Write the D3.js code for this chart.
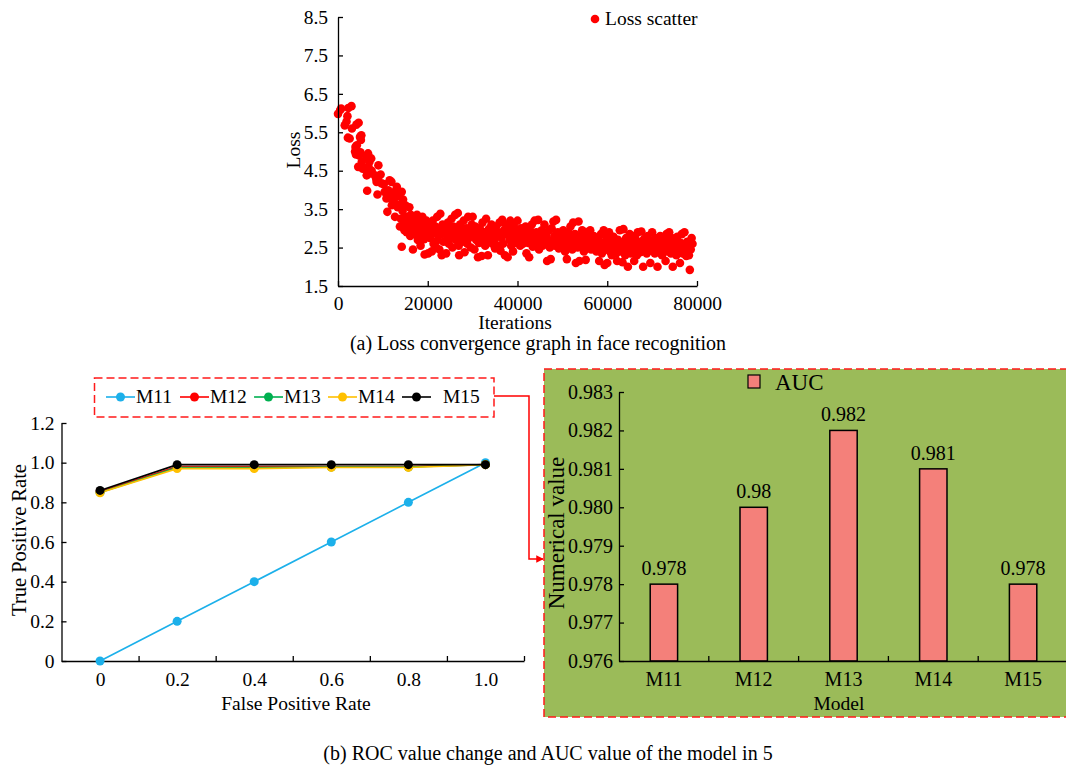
<!DOCTYPE html>
<html>
<head>
<meta charset="utf-8">
<script src="https://cdn.jsdelivr.net/npm/d3@7"></script>
<style>
	body { margin: 0; background: #fff; }
	svg { display: block; font-family: "Liberation Serif", "Times New Roman", serif; }
	.axis path, .axis line { stroke: #000; stroke-width: 1.3; }
	.axis text { fill: #000; font-family: "Liberation Serif", "Times New Roman", serif; }
</style>
</head>
<body>
<div id="chart"></div>
<script>

///////////////////////////////////////////////////////////////////////////
/////////////////////////////// The data //////////////////////////////////
///////////////////////////////////////////////////////////////////////////

//Loss scatter: [iteration, loss]
var lossPoints = [
	[0,5.98],[500,6.08],[700,6.12],[1500,5.68],[1900,5.78],[2100,5.92],[2200,5.36],[2300,6.13],[2600,5.34],[3000,6.18],
	[3100,5.6],[3800,5.0],[3900,5.12],[4000,4.92],[4100,5.7],[4200,5.16],[4500,4.6],[4600,5.75],[4700,4.9],[4900,5.38],
	[5100,5.3],[5200,5.42],[5000,4.98],[5300,4.73],[5500,4.55],[6000,4.56],[6300,4.86],[6400,4.38],[6500,3.98],[6700,4.95],
	[6800,4.6],[7000,4.73],[7100,4.43],[7400,4.82],[7500,4.5],[8200,4.38],[8500,4.3],[8600,4.21],[8800,3.88],[9000,4.34],
	[9000,4.64],[9500,4.4],[9700,4.17],[10200,4.15],[10400,3.95],[10800,3.78],[11000,3.43],[11200,3.99],[11500,4.25],[11900,4.21],
	[11600,3.85],[12000,3.6],[12300,3.7],[12600,3.95],[12700,3.3],[12900,3.82],[13100,4.08],[13300,3.55],[13500,3.9],[13600,3.62],
	[13800,3.05],[14000,3.25],[14200,3.95],[14200,2.52],[14400,3.45],[14500,3.75],[14700,3.15],[14800,2.95],[15000,3.6],[15000,3.3],
	[15300,2.9],[15500,3.2],[15700,3.05],[15900,3.55],[16100,2.8],[16200,3.35],[16400,2.95],[16700,2.45],[16800,3.1],[17000,3.25],
	[17200,2.85],[17400,3.0],[17600,3.35],[17800,2.7],[18000,2.98],[18200,3.15],[18400,2.55],[18600,2.88],[18800,3.3],[19000,3.05],
	[19200,2.72],[19300,2.32],[19500,2.95],[19700,3.2],[19900,2.85],
	[20100,2.35],[20300,3.1],[20500,2.75],[20700,2.95],[20900,2.4],[21100,3.2],[21300,2.6],[21500,2.88],[21700,3.05],[21900,2.5],
	[22100,3.3],[22200,2.7],[22400,2.95],[22600,2.45],[22800,3.38],[22900,2.85],[23100,2.3],[23300,3.1],[23500,2.65],[23700,2.9],[23900,3.0],
	[24100,2.35],[24300,2.8],[24500,3.15],[24700,2.6],[24900,2.95],[25100,2.75],[25300,3.25],[25500,2.5],[25700,3.05],[25900,2.85],
	[26100,3.35],[26300,2.7],[26500,2.95],[26700,3.4],[26900,2.55],[27000,2.3],[27200,3.1],[27400,2.8],[27600,2.98],[27800,2.65],
	[28000,3.2],[28200,2.38],[28400,2.85],[28600,3.0],[28800,2.6],[29000,3.3],[29200,2.75],[29400,2.92],[29600,2.5],[29800,3.1],
	[30000,3.3],[30200,2.82],[30400,2.45],[30600,3.05],[30800,2.7],[31000,2.95],[31200,2.25],[31400,2.62],[31600,3.0],[31800,2.8],
	[32000,2.28],[32200,3.15],[32400,2.7],[32600,2.9],[32800,2.55],[33000,3.25],[33200,2.75],[33400,2.3],[33600,2.98],[33800,2.65],
	[34000,2.85],[34200,3.1],[34400,2.6],[34600,2.95],[34800,2.7],[35000,2.48],[35200,3.05],[35400,2.8],[35600,2.55],[35800,2.9],
	[36000,3.15],[36200,2.42],[36400,2.75],[36600,3.22],[36800,2.6],[37000,2.95],[37200,2.3],[37400,3.1],[37600,2.85],[37800,2.25],
	[38000,3.0],[38200,2.7],[38400,3.2],[38600,2.55],[38800,2.9],[39000,2.4],[39200,3.05],[39400,2.78],[39600,2.62],[39800,2.95],
	[40000,3.2],[40200,2.7],[40400,2.85],[40600,2.55],[40800,3.0],[41000,2.75],[41200,2.6],[41400,2.9],[41600,2.68],[41800,3.05],
	[42000,2.35],[42200,2.8],[42400,2.62],[42600,2.25],[42800,2.95],[43000,2.7],[43200,3.1],[43400,2.52],[43600,2.85],[43800,3.2],
	[44000,2.6],[44200,2.9],[44400,2.75],[44600,3.22],[44800,2.45],[45000,2.82],[45200,2.65],[45400,2.95],[45600,2.55],[45800,2.78],
	[46000,3.1],[46200,2.6],[46400,2.85],[46600,2.15],[46800,2.7],[47000,2.95],[47200,2.5],[47400,2.2],[47600,3.0],[47800,2.65],
	[48000,3.18],[48200,2.8],[48400,2.55],[48600,3.22],[48800,2.7],[49000,2.9],[49200,2.48],[49400,2.75],[49600,2.6],[49800,2.85],
	[50000,2.55],[50200,2.95],[50400,2.7],[50600,2.4],[50800,2.85],[51000,2.2],[51200,2.62],[51400,2.9],[51600,2.5],[51800,3.05],
	[52000,2.75],[52200,2.45],[52400,3.15],[52600,2.6],[52800,2.85],[53000,2.1],[53200,2.7],[53400,2.5],[53600,3.18],[53800,2.15],
	[54000,2.8],[54200,2.55],[54400,2.95],[54600,2.65],[54800,2.4],[55000,2.72],[55200,2.18],[55400,2.9],[55600,2.5],[55800,2.78],
	[56000,2.6],[56200,2.95],[56400,2.45],[56600,2.7],[56800,2.55],[57000,2.8],[57200,2.5],[57400,2.65],[57600,2.4],[57800,2.58],
	[58000,2.7],[58200,2.15],[58400,2.5],[58600,2.85],[58800,2.35],[59000,2.62],[59200,2.95],[59400,2.05],[59600,2.45],[59800,2.75],
	[60000,2.1],[60200,2.55],[60400,2.9],[60600,2.4],[60800,2.68],[61000,2.3],[61200,2.5],[61400,2.78],[61600,2.45],[61800,2.6],
	[62000,2.35],[62200,2.15],[62400,2.7],[62600,2.5],[62800,2.95],[63000,2.4],[63200,2.62],[63400,2.12],[63600,2.98],[63800,2.55],
	[64000,2.3],[64200,2.75],[64400,2.45],[64600,2.0],[64800,2.6],[65000,2.85],[65200,2.35],[65400,2.5],[65600,2.7],[65800,2.42],
	[66000,2.15],[66200,2.8],[66400,2.55],[66600,2.3],[66800,2.9],[67000,2.48],[67200,2.65],[67400,2.38],[67600,2.92],[67800,2.55],
	[68000,2.0],[68200,2.72],[68400,2.45],[68600,2.6],[68800,2.35],[69000,2.8],[69200,2.5],[69400,2.42],[69600,2.1],[69800,2.68],
	[70000,2.9],[70200,2.45],[70400,2.6],[70600,2.35],[70800,2.75],[71000,2.5],[71200,2.0],[71400,2.62],[71600,2.4],[71800,2.8],
	[72000,2.55],[72200,2.3],[72400,2.7],[72600,2.45],[72800,2.6],[73000,2.15],[73200,2.85],[73400,2.4],[73600,2.68],[73800,2.9],
	[74000,2.5],[74200,2.35],[74400,2.75],[74600,2.0],[74800,2.55],[75000,2.42],[75200,2.65],[75400,2.3],[75600,2.78],[75800,2.5],
	[76000,2.4],[76200,2.1],[76400,2.62],[76600,2.85],[76800,2.35],[77000,2.55],[77200,2.9],[77400,2.45],[77600,2.28],[77800,2.65],
	[78000,2.5],[78200,2.3],[78400,1.92],[78600,2.45],[78800,2.75],[79000,2.6]
];
var lossTicksY = [1.5, 2.5, 3.5, 4.5, 5.5, 6.5, 7.5, 8.5];
var lossTicksX = [0, 20000, 40000, 60000, 80000];

//ROC curves
var fprValues = [0, 0.2, 0.4, 0.6, 0.8, 1.0];
var rocModels = ["M11", "M12", "M13", "M14", "M15"];
var rocColors = ["#1cb0ea", "#ff0000", "#00b050", "#ffc000", "#000000"];
var tprM11 = [0, 0.2, 0.4, 0.6, 0.8, 1.0];
var tprM12 = [0.855, 0.98, 0.98, 0.98, 0.98, 0.99];
var tprM13 = [0.85, 0.975, 0.975, 0.978, 0.978, 0.99];
var tprM14 = [0.848, 0.97, 0.97, 0.976, 0.976, 0.99];
var tprM15 = [0.86, 0.99, 0.99, 0.99, 0.99, 0.99];
var rocTicksY = [0, 0.2, 0.4, 0.6, 0.8, 1.0, 1.2];

//AUC bars
var aucModels = ["M11", "M12", "M13", "M14", "M15"];
var aucValues = [0.978, 0.980, 0.982, 0.981, 0.978];
var aucLabels = ["0.978", "0.98", "0.982", "0.981", "0.978"];
var aucTicksY = [0.976, 0.977, 0.978, 0.979, 0.980, 0.981, 0.982, 0.983];

///////////////////////////////////////////////////////////////////////////
//////////////////////////// Set up the SVG ///////////////////////////////
///////////////////////////////////////////////////////////////////////////

var width = 1066,
	height = 770;

var svg = d3.select("#chart")
	.append("svg")
	.attr("width", width)
	.attr("height", height);

svg.append("rect")
	.attr("width", width)
	.attr("height", height)
	.style("fill", "#fff");

//Arrow head for the connector
svg.append("defs").append("marker")
	.attr("id", "arrow")
	.attr("viewBox", "0 0 10 10")
	.attr("refX", 9)
	.attr("refY", 5)
	.attr("markerWidth", 5)
	.attr("markerHeight", 5)
	.attr("markerUnits", "strokeWidth")
	.attr("orient", "auto")
	.append("path")
	.attr("d", "M0,0 L10,5 L0,10 Z")
	.style("fill", "#ff0000");

///////////////////////////////////////////////////////////////////////////
///////////////////////// (a) Loss scatter chart //////////////////////////
///////////////////////////////////////////////////////////////////////////

var xLoss = d3.scaleLinear().domain([0, 80000]).range([338, 697]);
var yLoss = d3.scaleLinear().domain([1.5, 8.5]).range([286, 17]);

var lossChart = svg.append("g").attr("class", "loss-chart");

lossChart.selectAll(".loss-dot")
	.data(lossPoints)
	.enter().append("circle")
	.attr("class", "loss-dot")
	.attr("cx", function(d) { return xLoss(d[0]); })
	.attr("cy", function(d) { return yLoss(d[1]); })
	.attr("r", 4.3)
	.style("fill", "#ff0000");

lossChart.append("g")
	.attr("class", "axis")
	.attr("transform", "translate(" + xLoss(0) + ",0)")
	.call(d3.axisLeft(yLoss).tickValues(lossTicksY).tickFormat(d3.format(".1f"))
		.tickSizeInner(-5).tickSizeOuter(0).tickPadding(10))
	.selectAll("text").style("font-size", "19.5px");

lossChart.append("g")
	.attr("class", "axis")
	.attr("transform", "translate(0," + yLoss(1.5) + ")")
	.call(d3.axisBottom(xLoss).tickValues(lossTicksX).tickFormat(d3.format("d"))
		.tickSizeInner(-5).tickSizeOuter(0).tickPadding(10))
	.selectAll("text").style("font-size", "19.5px");

lossChart.append("text")
	.attr("transform", "translate(300,150) rotate(-90)")
	.attr("text-anchor", "middle")
	.style("font-size", "19.5px")
	.text("Loss");

lossChart.append("text")
	.attr("x", 515)
	.attr("y", 329)
	.attr("text-anchor", "middle")
	.style("font-size", "19.5px")
	.text("Iterations");

lossChart.append("text")
	.attr("x", 538)
	.attr("y", 350)
	.attr("text-anchor", "middle")
	.style("font-size", "20px")
	.text("(a) Loss convergence graph in face recognition");

//Legend
lossChart.append("circle")
	.attr("cx", 595)
	.attr("cy", 19)
	.attr("r", 4.3)
	.style("fill", "#ff0000");

lossChart.append("text")
	.attr("x", 605)
	.attr("y", 25)
	.style("font-size", "19.5px")
	.text("Loss scatter");

///////////////////////////////////////////////////////////////////////////
//////////////////////////// (b) ROC chart ////////////////////////////////
///////////////////////////////////////////////////////////////////////////

var xRoc = d3.scaleLinear().domain([-0.1, 1.1]).range([61.5, 524]);
var yRoc = d3.scaleLinear().domain([0, 1.2]).range([661, 423]);

var rocChart = svg.append("g").attr("class", "roc-chart");

var rocFormat = function(d) { return d === 0 ? "0" : d3.format(".1f")(d); };

rocChart.append("g")
	.attr("class", "axis")
	.attr("transform", "translate(" + xRoc(-0.1) + ",0)")
	.call(d3.axisLeft(yRoc).tickValues(rocTicksY).tickFormat(rocFormat)
		.tickSizeInner(-5).tickSizeOuter(0).tickPadding(7))
	.selectAll("text").style("font-size", "19.5px");

//Labels sit under the points, tick marks sit between them
rocChart.append("g")
	.attr("class", "axis")
	.attr("transform", "translate(0," + yRoc(0) + ")")
	.call(d3.axisBottom(xRoc).tickValues(fprValues).tickFormat(rocFormat)
		.tickSizeInner(0).tickSizeOuter(0).tickPadding(11))
	.selectAll("text").style("font-size", "19.5px");

rocChart.append("g")
	.attr("class", "axis")
	.attr("transform", "translate(0," + yRoc(0) + ")")
	.call(d3.axisBottom(xRoc).tickValues(fprValues.map(function(d) { return d + 0.1; }))
		.tickFormat("").tickSizeInner(-5).tickSizeOuter(0))
	.select(".domain").remove();

var rocSeries = [tprM11, tprM12, tprM13, tprM14, tprM15].map(function(tpr, i) {
	return {
		model: rocModels[i],
		color: rocColors[i],
		values: tpr.map(function(v, j) { return {fpr: fprValues[j], tpr: v}; })
	};
});

var rocLine = d3.line()
	.x(function(d) { return xRoc(d.fpr); })
	.y(function(d) { return yRoc(d.tpr); });

var series = rocChart.selectAll(".roc-series")
	.data(rocSeries)
	.enter().append("g")
	.attr("class", "roc-series");

series.append("path")
	.attr("d", function(d) { return rocLine(d.values); })
	.style("fill", "none")
	.style("stroke", function(d) { return d.color; })
	.style("stroke-width", 1.6);

series.selectAll("circle")
	.data(function(d) { return d.values.map(function(v) { return {v: v, color: d.color}; }); })
	.enter().append("circle")
	.attr("cx", function(d) { return xRoc(d.v.fpr); })
	.attr("cy", function(d) { return yRoc(d.v.tpr); })
	.attr("r", 4.5)
	.style("fill", function(d) { return d.color; });

rocChart.append("text")
	.attr("transform", "translate(26,540) rotate(-90)")
	.attr("text-anchor", "middle")
	.style("font-size", "20.5px")
	.text("True Positive Rate");

rocChart.append("text")
	.attr("x", 296)
	.attr("y", 710)
	.attr("text-anchor", "middle")
	.style("font-size", "19.5px")
	.text("False Positive Rate");

//Legend inside a dashed box
rocChart.append("rect")
	.attr("x", 94.5)
	.attr("y", 378)
	.attr("width", 399.5)
	.attr("height", 39)
	.style("fill", "none")
	.style("stroke", "#ff1a1a")
	.style("stroke-width", 1.5)
	.style("stroke-dasharray", "8,4");

var legendItem = rocChart.selectAll(".roc-legend")
	.data(rocSeries)
	.enter().append("g")
	.attr("class", "roc-legend")
	.attr("transform", function(d, i) { return "translate(" + (106 + i * 74) + ",397)"; });

legendItem.append("line")
	.attr("x1", 0)
	.attr("x2", 29)
	.style("stroke", function(d) { return d.color; })
	.style("stroke-width", 1.6);

legendItem.append("circle")
	.attr("cx", 14.5)
	.attr("r", 4.5)
	.style("fill", function(d) { return d.color; });

legendItem.append("text")
	.attr("x", function(d, i) { return i === 4 ? 41 : 30; })
	.attr("y", 6)
	.style("font-size", "19.5px")
	.text(function(d) { return d.model; });

//Connector from legend box to the AUC panel
rocChart.append("path")
	.attr("d", "M494,396 H529 V559 H543")
	.style("fill", "none")
	.style("stroke", "#ff0000")
	.style("stroke-width", 1.5)
	.attr("marker-end", "url(#arrow)");

///////////////////////////////////////////////////////////////////////////
//////////////////////////// (b) AUC chart ////////////////////////////////
///////////////////////////////////////////////////////////////////////////

var aucChart = svg.append("g").attr("class", "auc-chart");

aucChart.append("rect")
	.attr("x", 544)
	.attr("y", 369)
	.attr("width", 540)
	.attr("height", 348)
	.style("fill", "#9bbb59")
	.style("stroke", "#ff1a1a")
	.style("stroke-width", 1.5)
	.style("stroke-dasharray", "8,4");

var xAuc = d3.scaleBand().domain(aucModels).range([619, 1068])
	.paddingInner(0.695).paddingOuter(0.3475);
var yAuc = d3.scaleLinear().domain([0.976, 0.983]).range([661, 392]);

aucChart.selectAll(".auc-bar")
	.data(aucValues)
	.enter().append("rect")
	.attr("class", "auc-bar")
	.attr("x", function(d, i) { return xAuc(aucModels[i]); })
	.attr("y", function(d) { return yAuc(d); })
	.attr("width", xAuc.bandwidth())
	.attr("height", function(d) { return yAuc(0.976) - yAuc(d); })
	.style("fill", "#f4807a")
	.style("stroke", "#000")
	.style("stroke-width", 1.5);

aucChart.selectAll(".auc-value")
	.data(aucValues)
	.enter().append("text")
	.attr("class", "auc-value")
	.attr("x", function(d, i) { return xAuc(aucModels[i]) + xAuc.bandwidth() / 2; })
	.attr("y", function(d) { return yAuc(d) - 9; })
	.attr("text-anchor", "middle")
	.style("font-size", "20px")
	.text(function(d, i) { return aucLabels[i]; });

aucChart.append("g")
	.attr("class", "axis")
	.attr("transform", "translate(619,0)")
	.call(d3.axisLeft(yAuc).tickValues(aucTicksY).tickFormat(d3.format(".3f"))
		.tickSizeInner(-5).tickSizeOuter(0).tickPadding(6))
	.selectAll("text").style("font-size", "20px");

aucChart.append("g")
	.attr("class", "axis")
	.attr("transform", "translate(0," + yAuc(0.976) + ")")
	.call(d3.axisBottom(xAuc).tickSizeInner(0).tickSizeOuter(0).tickPadding(11))
	.selectAll("text").style("font-size", "20px");

//Tick marks between the categories
aucChart.selectAll(".auc-sep")
	.data(aucModels)
	.enter().append("line")
	.attr("class", "auc-sep")
	.attr("x1", function(d) { return xAuc(d) + xAuc.bandwidth() / 2 + xAuc.step() / 2; })
	.attr("x2", function(d) { return xAuc(d) + xAuc.bandwidth() / 2 + xAuc.step() / 2; })
	.attr("y1", yAuc(0.976))
	.attr("y2", yAuc(0.976) - 5)
	.style("stroke", "#000")
	.style("stroke-width", 1.3);

aucChart.append("text")
	.attr("transform", "translate(564,533) rotate(-90)")
	.attr("text-anchor", "middle")
	.style("font-size", "23px")
	.text("Numerical value");

aucChart.append("text")
	.attr("x", 839)
	.attr("y", 710)
	.attr("text-anchor", "middle")
	.style("font-size", "19.5px")
	.text("Model");

//Legend
aucChart.append("rect")
	.attr("x", 748)
	.attr("y", 375)
	.attr("width", 12)
	.attr("height", 13)
	.style("fill", "#f4807a")
	.style("stroke", "#000")
	.style("stroke-width", 1.2);

aucChart.append("text")
	.attr("x", 775)
	.attr("y", 390)
	.style("font-size", "23px")
	.text("AUC");

///////////////////////////////////////////////////////////////////////////
/////////////////////////////// Caption ///////////////////////////////////
///////////////////////////////////////////////////////////////////////////

svg.append("text")
	.attr("x", 548)
	.attr("y", 760)
	.attr("text-anchor", "middle")
	.style("font-size", "20px")
	.text("(b) ROC value change and AUC value of the model in 5");

</script>
</body>
</html>
